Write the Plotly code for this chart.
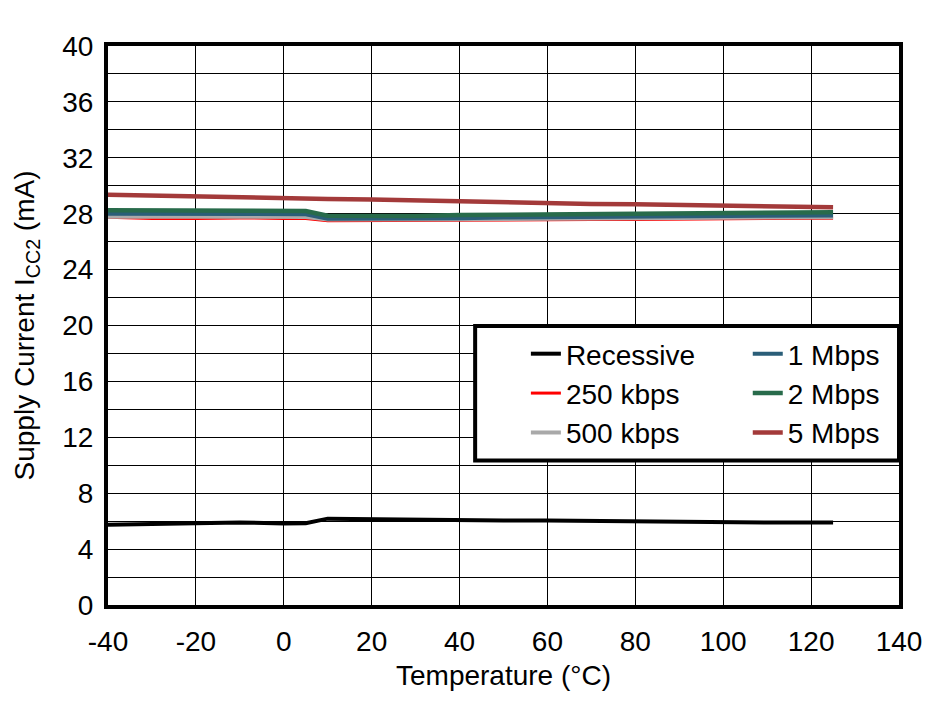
import plotly.graph_objects as go

# temperature axis (°C)
temps = [-40, -30, -20, -10, 0, 5, 10, 20, 30, 40, 50, 60, 70, 80, 90, 100, 110, 125]

# supply current ICC2 (mA)
recessive = [5.75, 5.8, 5.83, 5.9, 5.84, 5.85, 6.18, 6.14, 6.08, 6.06, 6.05, 6.04, 6.0, 5.98, 5.97, 5.92, 5.9, 5.9]
kbps_250 = [27.74, 27.66, 27.66, 27.7, 27.66, 27.66, 27.5, 27.52, 27.52, 27.55, 27.56, 27.57, 27.58, 27.58, 27.62, 27.64, 27.66, 27.68]
kbps_500 = [27.78, 27.78, 27.78, 27.83, 27.78, 27.77, 27.58, 27.57, 27.58, 27.6, 27.62, 27.63, 27.64, 27.66, 27.68, 27.7, 27.74, 27.75]
mbps_1 = [28.0, 28.0, 27.97, 28.0, 27.96, 27.96, 27.64, 27.63, 27.66, 27.68, 27.72, 27.74, 27.75, 27.78, 27.8, 27.85, 27.87, 27.88]
mbps_2 = [28.24, 28.24, 28.22, 28.24, 28.19, 28.19, 27.85, 27.81, 27.83, 27.9, 27.92, 27.98, 27.98, 28.02, 28.02, 28.05, 28.08, 28.1]
mbps_5 = [29.35, 29.28, 29.25, 29.2, 29.13, 29.1, 29.06, 29.02, 28.94, 28.86, 28.82, 28.76, 28.7, 28.67, 28.62, 28.57, 28.52, 28.47]

x_ticks = [-40, -20, 0, 20, 40, 60, 80, 100, 120, 140]
x_tick_text = ['-40', '-20', '0', '20', '40', '60', '80', '100', '120', '140']
y_ticks = [0, 4, 8, 12, 16, 20, 24, 28, 32, 36, 40]

# 系列の装飾 (name, values, color, width, legend column)
series = [
    ('Recessive', recessive, '#000000', 4, 'legend'),
    ('250 kbps', kbps_250, '#ff0000', 3, 'legend'),
    ('500 kbps', kbps_500, '#a9a9a9', 4, 'legend'),
    ('1 Mbps', mbps_1, '#2a5e78', 4, 'legend2'),
    ('2 Mbps', mbps_2, '#286b4b', 4.5, 'legend2'),
    ('5 Mbps', mbps_5, '#a33a3a', 4.5, 'legend2'),
]

font_family = 'Liberation Sans, Arial, sans-serif'
font_size = 28

# プロット領域 (参照画像のピクセル)
px_left, px_top, px_w, px_h = 105, 44, 795, 561

def paper_x(px):
    return (px - px_left) / px_w

def paper_y(py):
    return (px_top + px_h - py) / px_h

fig = go.Figure()
for name, values, color, width, leg in series:
    fig.add_trace(go.Scatter(
        x=temps,
        y=values,
        mode='lines',
        name=name,
        legend=leg,
        line=dict(color=color, width=width),
    ))

# 凡例の枠
fig.add_shape(
    type='rect', xref='paper', yref='paper',
    x0=paper_x(474), x1=1.0,
    y0=paper_y(460), y1=paper_y(325),
    line=dict(color='black', width=4),
    fillcolor='white',
    layer='above',
)

legend_style = dict(
    font=dict(family=font_family, size=font_size, color='black'),
    bgcolor='rgba(0,0,0,0)',
    borderwidth=0,
    xanchor='left',
    yanchor='top',
    tracegroupgap=0,
)

fig.update_layout(
    width=948,
    height=701,
    paper_bgcolor='white',
    plot_bgcolor='white',
    font=dict(family=font_family, size=font_size, color='black'),
    margin=dict(l=100, r=57, t=38, b=104),
    showlegend=True,
    legend=dict(x=paper_x(525), y=paper_y(328), **legend_style),
    legend2=dict(x=paper_x(748), y=paper_y(328), **legend_style),
    xaxis=dict(
        range=[-40, 140],
        tickvals=x_ticks,
        ticktext=x_tick_text,
        showgrid=True,
        gridcolor='black',
        gridwidth=1.2,
        showline=True,
        linecolor='black',
        linewidth=4,
        mirror=True,
        zeroline=False,
        ticks='',
        ticklabelstandoff=8,
        tickfont=dict(size=font_size),
        title=dict(text='Temperature (°C)', font=dict(size=font_size), standoff=11),
    ),
    yaxis=dict(
        range=[0, 40],
        tickvals=y_ticks,
        showgrid=True,
        gridcolor='black',
        gridwidth=1.2,
        minor=dict(dtick=2, showgrid=True, gridcolor='black', gridwidth=1.2),
        showline=True,
        linecolor='black',
        linewidth=4,
        mirror=True,
        zeroline=False,
        ticks='',
        ticklabelstandoff=5,
        tickfont=dict(size=font_size),
        title=dict(text='Supply Current I<sub>CC2</sub> (mA)', font=dict(size=font_size), standoff=20),
    ),
)

fig.write_html("out.html")
